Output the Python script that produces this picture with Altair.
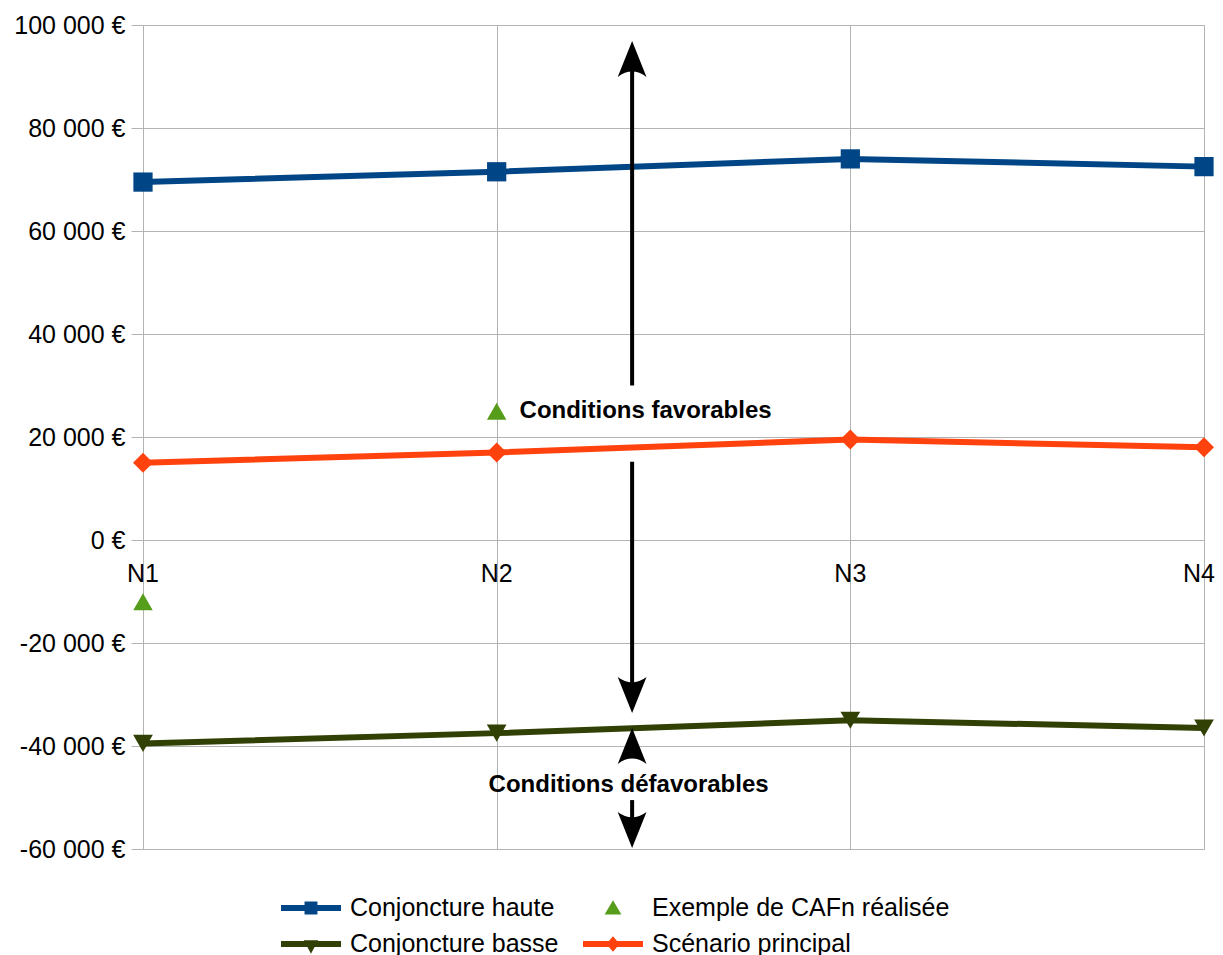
import altair as alt
import pandas as pd

FONT = "Liberation Sans"

periods = ["N1", "N2", "N3", "N4"]
haute = [69500, 71500, 74000, 72500]
principal = [15000, 17000, 19500, 18000]
basse = [-39500, -37500, -35000, -36500]
exemple = [-12000, 25000, None, None]

series_names = ["Conjoncture haute", "Exemple de CAFn réalisée",
                "Conjoncture basse", "Scénario principal"]
series_colors = ["#004586", "#579d1c", "#314004", "#ff420e"]
series_shapes = ["square", "triangle-up", "triangle-down", "diamond"]
series_sizes = [370, 400, 400, 300]

# legend is filled column by column
legend_order = ["Conjoncture haute", "Conjoncture basse",
                "Exemple de CAFn réalisée", "Scénario principal"]
legend_colors = ["#004586", "#314004", "#579d1c", "#ff420e"]

# arrows (x position on the continuous period axis, y in euros)
arrow_x = 1.383
shaft_y1 = [30000, 15200, -50500]
shaft_y2 = [92000, -29000, -55300]
head_y = [96900, -33600, -36500, -59800]
head_dir = ["up", "down", "up", "down"]

annot_text = ["Conditions favorables", "Conditions défavorables"]
annot_x = [1.421, 1.373]
annot_y = [25000, -47600]

# ---------------------------------------------------------------
rows = []
for name, vals in [("Conjoncture haute", haute), ("Conjoncture basse", basse),
                   ("Scénario principal", principal),
                   ("Exemple de CAFn réalisée", exemple)]:
    for i, (p, v) in enumerate(zip(periods, vals)):
        if v is not None:
            rows.append({"series": name, "x": i, "period": p, "value": v})
df = pd.DataFrame(rows)
df_lines = df[df["series"] != "Exemple de CAFn réalisée"]

shafts = pd.DataFrame({"x": [arrow_x] * len(shaft_y1), "y1": shaft_y1, "y2": shaft_y2})
heads = pd.DataFrame({"x": [arrow_x] * len(head_y), "value": head_y, "dir": head_dir})
annots = pd.DataFrame({"x": annot_x, "value": annot_y, "text": annot_text})
xlabels = pd.DataFrame({"x": list(range(len(periods))), "value": [0] * len(periods),
                        "period": periods})
xlabels_mid = xlabels.iloc[:-1]
xlabels_last = xlabels.iloc[-1:]
legend_df = pd.DataFrame({"leg": legend_order, "x": [0] * 4,
                          "value": [float("nan")] * 4})

GRID = "#b3b3b3"
xaxis = alt.Axis(values=[0, 1, 2, 3], grid=True, labels=False, ticks=False,
                 domain=False, title=None, gridColor=GRID, gridWidth=1)
yaxis = alt.Axis(values=list(range(-60000, 100001, 20000)), grid=True,
                 gridColor=GRID, gridWidth=1, domain=False, title=None,
                 tickColor=GRID, tickSize=12, labelPadding=6,
                 labelFontSize=25, labelFont=FONT, labelColor="black",
                 minExtent=132, maxExtent=132,
                 labelExpr="replace(replace(format(datum.value, ','), ',', ' '), '\u2212', '-') + ' €'")
xscale = alt.Scale(domain=[0, 3], nice=False, zero=False)
yscale = alt.Scale(domain=[-60000, 100000], nice=False, zero=False)


def X(field="x"):
    return alt.X(f"{field}:Q", scale=xscale, axis=xaxis)


def Y(field="value"):
    return alt.Y(f"{field}:Q", scale=yscale, axis=yaxis)


col_scale = alt.Scale(domain=series_names, range=series_colors)

lines = alt.Chart(df_lines).mark_line(strokeWidth=6).encode(
    x=X(), y=Y(),
    color=alt.Color("series:N", scale=col_scale, legend=None),
    detail="series:N",
)

points = alt.Chart(df).mark_point(filled=True, opacity=1, strokeWidth=0).encode(
    x=X(), y=Y(),
    color=alt.Color("series:N", scale=col_scale, legend=None),
    shape=alt.Shape("series:N", scale=alt.Scale(domain=series_names, range=series_shapes), legend=None),
    size=alt.Size("series:N", scale=alt.Scale(domain=series_names, range=series_sizes), legend=None),
)

shaft_layer = alt.Chart(shafts).mark_rule(strokeWidth=4, color="black").encode(
    x=X(), y=Y("y1"), y2="y2:Q"
)

up_path = "M0,0 L0.4,1 Q0,0.7 -0.4,1 Z"
down_path = "M0,0 L0.4,-1 Q0,-0.7 -0.4,-1 Z"
head_layer = alt.Chart(heads).mark_point(filled=True, opacity=1, size=5184,
                                         color="black", strokeWidth=0).encode(
    x=X(), y=Y(),
    shape=alt.Shape("dir:N", scale=alt.Scale(domain=["up", "down"], range=[up_path, down_path]), legend=None),
)

annot_layer = alt.Chart(annots).mark_text(font=FONT, fontSize=24, fontWeight="bold",
                                          color="black", align="center",
                                          baseline="middle").encode(
    x=X(), y=Y(), text="text:N"
)

xlabel_layer = alt.Chart(xlabels_mid).mark_text(font=FONT, fontSize=25, color="black",
                                                align="center", baseline="middle",
                                                dy=34).encode(
    x=X(), y=Y(), text="period:N"
)
xlabel_last = alt.Chart(xlabels_last).mark_text(font=FONT, fontSize=25, color="black",
                                                align="right", baseline="middle",
                                                dx=11, dy=34).encode(
    x=X(), y=Y(), text="period:N"
)

# legend symbols: line + marker as custom paths (unit = 15 px, symbol spans 60 px)
bar = "M-1,-0.2 L3,-0.2 L3,0.2 L-1,0.2 Z "
leg_paths = [
    bar + "M0.57,-0.43 L1.43,-0.43 L1.43,0.43 L0.57,0.43 Z",
    bar + "M0.52,-0.25 L1.48,-0.25 L1,0.65 Z",
    "M-1,0 L-1,0 M1,-0.52 L1.56,0.44 L0.44,0.44 Z M3,0 L3,0",
    bar + "M1,-0.52 L1.44,0 L1,0.52 L0.56,0 Z",
]
leg_props = dict(title=None, orient="none", legendX=138, legendY=868,
                 columns=2, columnPadding=24, rowPadding=8,
                 labelFontSize=25, labelFont=FONT, labelColor="black",
                 labelOffset=39, labelLimit=0, symbolSize=900,
                 symbolStrokeWidth=0, symbolOpacity=1, padding=0)
legend_layer = alt.Chart(legend_df).mark_point(filled=True, size=900, opacity=1,
                                               strokeWidth=0).encode(
    x=X(), y=Y(),
    color=alt.Color("leg:N", scale=alt.Scale(domain=legend_order, range=legend_colors),
                    legend=alt.Legend(**leg_props)),
    shape=alt.Shape("leg:N", scale=alt.Scale(domain=legend_order, range=leg_paths),
                    legend=alt.Legend(**leg_props)),
)

chart = alt.layer(
    lines, points, shaft_layer, head_layer, annot_layer, xlabel_layer, xlabel_last,
    legend_layer
).resolve_scale(
    color="independent", shape="independent"
).properties(
    width=1061, height=824,
    autosize=alt.AutoSizeParams(type="none"),
    padding={"left": 135, "top": 17, "right": 11, "bottom": 110},
).configure_view(strokeWidth=0).configure(font=FONT)

chart.save("out.html", embed_options={"renderer": "svg", "actions": False})
